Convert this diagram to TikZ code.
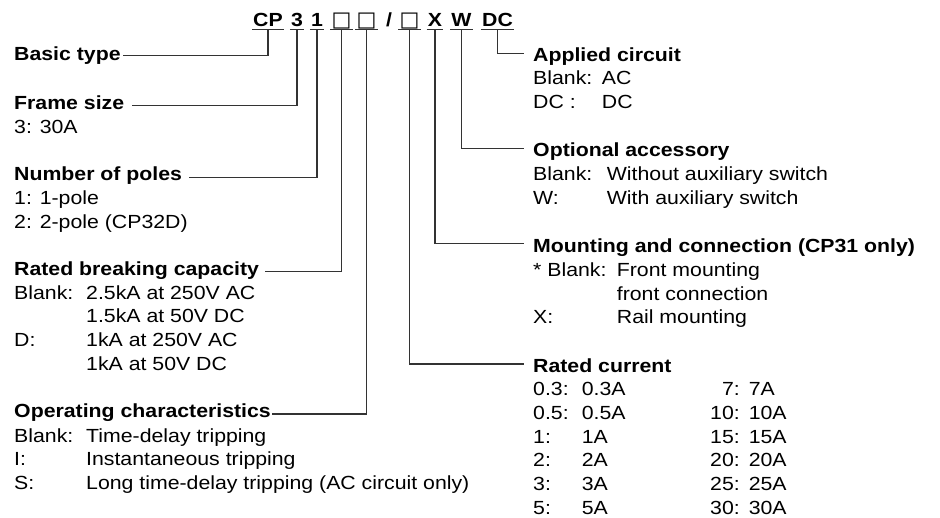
\documentclass[tikz,border=0pt]{standalone}
\usepackage{fontspec}
\setmainfont{Liberation Sans}[FakeStretch=1.12]
\newfontfamily\boxfont{DejaVu Sans}
\newcommand{\diagfont}{\fontsize{19}{23.7}\selectfont}
\newcommand{\blank}{{\boxfont\fontsize{21}{23.7}\selectfont □}}

\begin{document}
\begin{tikzpicture}[x=1pt, y=-1pt,
   font=\diagfont,
   code/.style={font=\diagfont\bfseries, inner xsep=1pt, inner ysep=2.8pt, text depth=0pt, anchor=base},
   head/.style={font=\diagfont\bfseries, inner sep=0pt, anchor=base west},
   body/.style={inner sep=0pt, anchor=base west},
   link/.style={draw=black!80, line width=1.1pt}
]
   \useasboundingbox (0,0) rectangle (940,517);

   \node[code] (cp) at (268,26.5) {CP};
   \node[code] (three) at (297,26.5) {3};
   \node[code] (one) at (317,26.5) {1};
   \node[code] (sqa) at (341.5,26.5) {\blank};
   \node[code] (sqb) at (366.5,26.5) {\blank};
   \node[code] (slash) at (389,26.5) {/};
   \node[code] (sqc) at (409.5,26.5) {\blank};
   \node[code] (x) at (435,26.5) {X};
   \node[code] (w) at (461.5,26.5) {W};
   \node[code] (dc) at (497.5,26.5) {DC};

   \foreach \n in {cp,three,one,sqa,sqb,sqc,x,w,dc}
      \draw[link] (\n.south west) -- (\n.south east);

   \node[head] (basic) at (14,60.7) {Basic type};

   \node[head] (frame) at (14,109.3) {Frame size};
   \node[body] (framev) at (14,133) {3: 30A};

   \node[head] (poles) at (14,180.7) {Number of poles};
   \node[body] (polesv) at (14,204.4) {\begin{tabular}[t]{@{}l@{}}
      1: 1-pole\\
      2: 2-pole (CP32D)
   \end{tabular}};

   \node[head] (breaking) at (14,275.5) {Rated breaking capacity};
   \node[body] (breakingv) at (14,299.2) {\begin{tabular}[t]{@{}p{72pt}@{}l@{}}
      Blank: & 2.5kA at 250V AC\\
             & 1.5kA at 50V DC\\
      D:     & 1kA at 250V AC\\
             & 1kA at 50V DC
   \end{tabular}};

   \node[head] (operating) at (14,417.7) {Operating characteristics};
   \node[body] (operatingv) at (14,442) {\begin{tabular}[t]{@{}p{72pt}@{}l@{}}
      Blank: & Time-delay tripping\\
      I:     & Instantaneous tripping\\
      S:     & Long time-delay tripping (AC circuit only)
   \end{tabular}};

   \node[head] (applied) at (533,61) {Applied circuit};
   \node[body] (appliedv) at (533,84.7) {\begin{tabular}[t]{@{}p{68.7pt}@{}l@{}}
      Blank: & AC\\
      DC :   & DC
   \end{tabular}};

   \node[head] (optional) at (533,156.7) {Optional accessory};
   \node[body] (optionalv) at (533,180.4) {\begin{tabular}[t]{@{}p{73.7pt}@{}l@{}}
      Blank: & Without auxiliary switch\\
      W:     & With auxiliary switch
   \end{tabular}};

   \node[head] (mounting) at (533,252.7) {Mounting and connection (CP31 only)};
   \node[body] (mountingv) at (533,276.5) {\begin{tabular}[t]{@{}p{83.7pt}@{}l@{}}
      * Blank: & Front mounting\\
               & front connection\\
      X:       & Rail mounting
   \end{tabular}};

   \node[head] (current) at (533,372.7) {Rated current};
   \node[body] (currentv) at (533,395.8) {\begin{tabular}[t]{@{}p{48.7pt}@{}p{128.3pt}@{}r@{\hspace{9pt}}l@{}}
      0.3: & 0.3A & 7:  & 7A\\
      0.5: & 0.5A & 10: & 10A\\
      1:   & 1A   & 15: & 15A\\
      2:   & 2A   & 20: & 20A\\
      3:   & 3A   & 25: & 25A\\
      5:   & 5A   & 30: & 30A
   \end{tabular}};

   \draw[link] (cp.south) |- ([xshift=2pt,yshift=5pt]basic.base east);
   \draw[link] (three.south) |- ([xshift=8pt,yshift=3.6pt]frame.base east);
   \draw[link] (one.south) |- ([xshift=7pt,yshift=3.4pt]poles.base east);
   \draw[link] (sqa.south) |- ([xshift=6pt,yshift=3.6pt]breaking.base east);
   \draw[link] (sqb.south) |- ([xshift=1pt,yshift=3.7pt]operating.base east);
   \draw[link] (sqc.south) |- ([xshift=-9pt,yshift=8.7pt]current.base west);
   \draw[link] (x.south) |- ([xshift=-9pt,yshift=9.4pt]mounting.base west);
   \draw[link] (w.south) |- ([xshift=-9pt,yshift=8.5pt]optional.base west);
   \draw[link] (dc.south) |- ([xshift=-9pt,yshift=7.7pt]applied.base west);

\end{tikzpicture}
\end{document}
